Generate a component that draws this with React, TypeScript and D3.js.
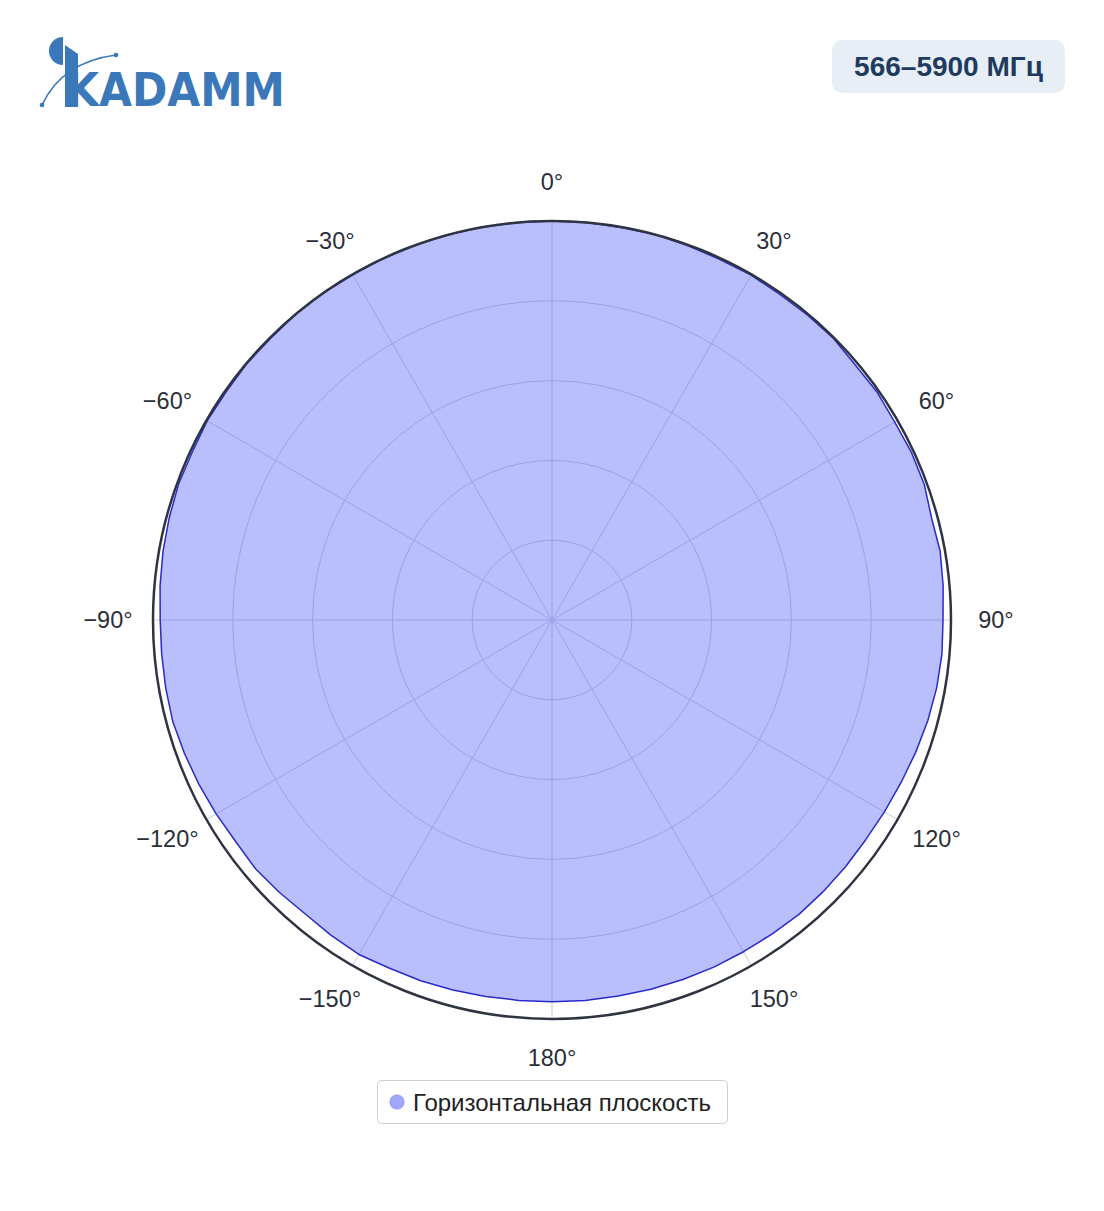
import React from "react";
import * as d3 from "d3";

const thetaDeg: number[] = [
  -180, -175, -170, -165, -160, -155, -150, -145, -140, -135, -130, -125,
  -120, -115, -110, -105, -100, -95, -90, -85, -80, -75, -70, -65,
  -60, -55, -50, -45, -40, -35, -30, -25, -20, -15, -10, -5,
  0, 5, 10, 15, 20, 25, 30, 35, 40, 45, 50, 55,
  60, 65, 70, 75, 80, 85, 90, 95, 100, 105, 110, 115,
  120, 125, 130, 135, 140, 145, 150, 155, 160, 165, 170, 175,
];
const gain: number[] = [
  0.957, 0.957, 0.958, 0.96, 0.962, 0.963, 0.968, 0.965, 0.962, 0.966, 0.97, 0.968,
  0.972, 0.976, 0.98, 0.984, 0.983, 0.982, 0.982, 0.986, 0.99, 0.993, 0.996, 0.995,
  0.998, 0.997, 0.999, 0.998, 1.0, 1.0, 0.999, 1.0, 1.0, 1.0, 1.0, 1.0,
  1.0, 1.0, 0.999, 1.0, 0.998, 0.997, 0.998, 0.996, 0.997, 0.998, 0.993, 0.995,
  0.992, 0.994, 0.993, 0.985, 0.988, 0.984, 0.98, 0.981, 0.979, 0.975, 0.97, 0.965,
  0.962, 0.96, 0.961, 0.962, 0.963, 0.961, 0.96, 0.96, 0.959, 0.958, 0.957, 0.957,
];
const radialTicks: number[] = [0.2, 0.4, 0.6, 0.8];
const angularTicks: number[] = [0, 30, 60, 90, 120, 150, 180, -150, -120, -90, -60, -30];
const seriesName = "Горизонтальная плоскость";
const badgeText = "566–5900 МГц";
const logoText = "KADAMM";

const W = 1104;
const H = 1211;
const cx = 552;
const cy = 620;
const R = 399;
const FONT = "Arial, 'Liberation Sans', sans-serif";

export default function App() {
  const r = d3.scaleLinear().domain([0, 1]).range([0, R]);
  const toRad = (deg: number) => (deg * Math.PI) / 180;
  const pts: [number, number][] = thetaDeg.map((t, i) => [toRad(t), r(gain[i])]);
  const lineGen = d3.lineRadial<[number, number]>()
    .angle((d) => d[0])
    .radius((d) => d[1])
    .curve(d3.curveLinearClosed);
  const path = lineGen(pts) || "";
  const fmt = (t: number) => (t < 0 ? "\u2212" + Math.abs(t) : String(t)) + "°";

  return (
    <div style={{ position: "absolute", left: 0, top: 0 }}>
      <svg width={W} height={H} style={{ display: "block", background: "#fff" }}>
        {/* Logo */}
        <g fill="#3a78b9">
          <path d="M63,37 A14,14 0 0 0 63,65 Z" />
          <path d="M65,45 L78,54 L78,107 L65,107 Z" />
          <text x={66} y={106} fontFamily="'DejaVu Sans', sans-serif" fontWeight="bold"
            fontSize={47} textLength={219} lengthAdjust="spacingAndGlyphs">{logoText}</text>
          <path d="M42,105 Q62,62 116,55" fill="none" stroke="#3a78b9" strokeWidth={1.6} />
          <circle cx={42} cy={105} r={2.3} />
          <circle cx={116} cy={55} r={2.3} />
        </g>
        {/* Badge */}
        <rect x={832} y={40} width={233} height={53} rx={10} fill="#e8eef6" />
        <text x={948.5} y={76} textAnchor="middle" fontFamily={FONT} fontWeight="bold"
          fontSize={28} fill="#1f3a5f">{badgeText}</text>

        <g transform={`translate(${cx},${cy})`}>
          <circle r={R} fill="#fff" />
          {radialTicks.map((t) => (
            <circle key={t} r={r(t)} fill="none" stroke="#c9cad8" strokeWidth={1} />
          ))}
          {angularTicks.map((a) => (
            <line key={a} x1={0} y1={0} x2={R * Math.sin(toRad(a))} y2={-R * Math.cos(toRad(a))}
              stroke="#c9cad8" strokeWidth={1} />
          ))}
          <path d={path} fill="rgba(99,110,250,0.45)" stroke="#2a2ac8" strokeWidth={1.5}
            strokeLinejoin="round" />
          <circle r={R} fill="none" stroke="#2e3440" strokeWidth={2.5} />
          {angularTicks.map((a) => (
            <text key={a} x={444 * Math.sin(toRad(a))} y={-438 * Math.cos(toRad(a))}
              textAnchor="middle" dominantBaseline="central" fontFamily={FONT}
              fontSize={23.5} fill="#2a2f3a">{fmt(a)}</text>
          ))}
        </g>

        {/* Legend */}
        <rect x={377.5} y={1080.5} width={350} height={43} rx={4} fill="#fff" stroke="#cfcfcf" strokeWidth={1} />
        <circle cx={397} cy={1102} r={7.3} fill="rgba(99,110,250,0.6)" stroke="rgba(80,90,230,0.6)" strokeWidth={0.5} />
        <text x={413} y={1110.5} fontFamily={FONT} fontSize={24} fill="#222">{seriesName}</text>
      </svg>
    </div>
  );
}
